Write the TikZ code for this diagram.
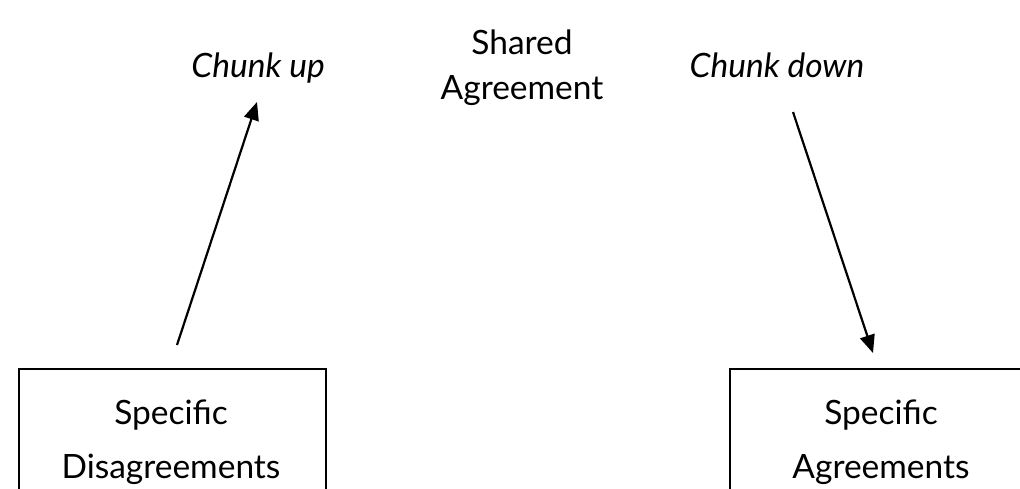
\documentclass[tikz,border=0pt]{standalone}
\usepackage{fontspec}
\setmainfont{Lato}
\usetikzlibrary{arrows.meta}
\begin{document}
\begin{tikzpicture}[x=1pt,y=-1pt,
  lbl/.style={anchor=base,inner sep=0pt,font=\fontsize{33.5}{40}\selectfont},
  ilbl/.style={lbl,font=\fontsize{33.5}{40}\selectfont\itshape},
  boxstyle/.style={draw,line width=2pt,anchor=north west,inner sep=0pt},
  conn/.style={line width=2.2pt,-{Triangle[length=18pt,width=15pt]}}]
\useasboundingbox (0,0) rectangle (1020,489);
\clip (0,0) rectangle (1020,489);
\node[boxstyle,minimum width=307pt,minimum height=160pt] (lbox) at (18,368) {};
\node[boxstyle,minimum width=320pt,minimum height=160pt] (rbox) at (729,368) {};
\node[lbl] (l1) at (171,424) {Specific};
\node[lbl] (l2) at (171,478) {Disagreements};
\node[lbl] (r1) at (881,424) {Specific};
\node[lbl] (r2) at (881,478) {Agreements};
\node[lbl] (s1) at (522,55) {Shared};
\node[lbl] (s2) at (522,100) {Agreement};
\node[ilbl] (cu) at (258,78) {Chunk up};
\node[ilbl] (cd) at (777,78) {Chunk down};
\coordinate (us) at (177,345);
\coordinate (ue) at (257,102);
\coordinate (ds) at (793,112);
\coordinate (de) at (873,353);
\draw[conn] (us) -- (ue);
\draw[conn] (ds) -- (de);
\end{tikzpicture}
\end{document}
